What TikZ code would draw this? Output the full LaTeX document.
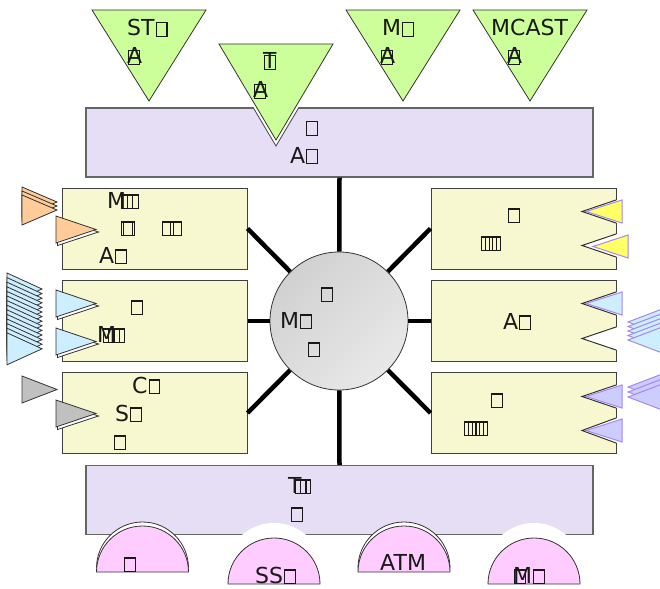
\documentclass[tikz,border=0pt]{standalone}
\usepackage{fontspec}
\setmainfont{DejaVu Sans}
\setlength\fboxsep{0pt}
\setlength\fboxrule{1.2pt}
\newcommand\nb{\kern1pt\fbox{\rule{0pt}{12.5pt}\rule{9.5pt}{0pt}}\kern1pt}
\newcommand\ovl[2]{\rlap{#1}#2}
\definecolor{barc}{HTML}{E6DEF5}
\definecolor{boxc}{HTML}{F8F8D0}
\definecolor{greent}{HTML}{CCFF99}
\definecolor{pinkd}{HTML}{FFCCFF}
\definecolor{orng}{HTML}{FFCC99}
\definecolor{lblue}{HTML}{CCEEFF}
\definecolor{grayt}{HTML}{C0C0C0}
\definecolor{yelt}{HTML}{FFFF66}
\definecolor{purt}{HTML}{CCCCFF}
\definecolor{purl}{HTML}{A488EE}
\tikzset{
  bar/.style={draw=black!60, fill=barc, line width=1.2pt, minimum width=507pt, minimum height=69pt, inner sep=0pt},
  ybox/.style={draw=black!75, fill=boxc, line width=1pt, minimum width=185pt, minimum height=81pt, inner sep=0pt},
  lbl/.style={anchor=base west, inner sep=0pt, font=\fontsize{22}{26}\selectfont, text=black!90},
  link/.style={line width=4.5pt, black},
  tri/.style={draw=black!80, line width=0.8pt, line join=miter},
  rtri/.style={draw=purl, line width=1pt, line join=miter},
  notch/.style={draw=black!80, line width=1pt}
}
\begin{document}
\begin{tikzpicture}[x=1pt,y=-1pt]
\useasboundingbox (0,0) rectangle (660,588);
\clip (0,0) rectangle (660,588);
% bars and boxes
\node[bar] (Top) at (339.5,142.5) {};
\node[bar] (Bot) at (339.5,500) {};
\node[ybox] (L1) at (154.5,228.5) {};
\node[ybox] (L2) at (154.5,321) {};
\node[ybox] (L3) at (154.5,413) {};
\node[ybox] (R1) at (523.5,228.5) {};
\node[ybox] (R2) at (523.5,321) {};
\node[ybox] (R3) at (523.5,413) {};
\node[circle, draw=black!80, line width=0.8pt, minimum size=138pt, inner sep=0pt,
      top color=black!18, bottom color=black!9, shading angle=45] (C) at (339,321) {};
% links
\draw[link] (Top.south) -- (C);
\draw[link] (Bot.north) -- (C);
\draw[link] (L1.east) -- (C);
\draw[link] (L2.east) -- (C);
\draw[link] (L3.east) -- (C);
\draw[link] (R1.west) -- (C);
\draw[link] (R2.west) -- (C);
\draw[link] (R3.west) -- (C);
% top triangles
\filldraw[tri, fill=greent] (92,10) -- (206,10) -- (149,101) -- cycle;
\begin{scope}
  \clip (86,108) rectangle (593,177);
  \draw[line width=7pt, black!70, line join=miter] (219,44) -- (333,44) -- (276,140) -- cycle;
  \draw[line width=5pt, white, line join=miter] (219,44) -- (333,44) -- (276,140) -- cycle;
\end{scope}
\filldraw[tri, fill=greent] (219,44) -- (333,44) -- (276,140) -- cycle;
\filldraw[tri, fill=greent] (346,10) -- (460,10) -- (403,101) -- cycle;
\filldraw[tri, fill=greent] (473,10) -- (587,10) -- (530,101) -- cycle;
% bottom half disks
\filldraw[tri, fill=white] (96.5,568) arc[start angle=180, end angle=0, radius=46pt] -- cycle;
\filldraw[tri, fill=pinkd] (96.5,572) arc[start angle=180, end angle=0, radius=46pt] -- cycle;
\fill[white] (225,572) arc[start angle=180, end angle=0, radius=49pt] -- cycle;
\filldraw[tri, fill=pinkd] (228,584) arc[start angle=180, end angle=0, radius=46pt] -- cycle;
\filldraw[tri, fill=white] (358,568) arc[start angle=180, end angle=0, radius=46pt] -- cycle;
\filldraw[tri, fill=pinkd] (358,572) arc[start angle=180, end angle=0, radius=46pt] -- cycle;
\fill[white] (485,572) arc[start angle=180, end angle=0, radius=49pt] -- cycle;
\filldraw[tri, fill=pinkd] (488,584) arc[start angle=180, end angle=0, radius=46pt] -- cycle;
% left stacks
\foreach \i in {0,1,2}
  \filldraw[tri, fill=orng] (22,{187+4*\i}) -- (57,{202+4*\i}) -- (22,{217+4*\i}) -- cycle;
\foreach \i in {0,...,13}
  \filldraw[tri, fill=lblue] (7,{273+4.6*\i}) -- (42,{289+4.6*\i}) -- (7,{305+4.6*\i}) -- cycle;
\filldraw[tri, fill=grayt] (22,376) -- (57,389.5) -- (22,403) -- cycle;
% left inner triangles with shadow
\foreach \c/\ya/\yb in {orng/216/243, lblue/290/317, lblue/328/355, grayt/400/427} {
  \filldraw[tri, fill=white] (57.5,{\ya+2.5}) -- (98.5,{(\ya+\yb)/2+2.5}) -- (57.5,{\yb+2.5}) -- cycle;
  \filldraw[tri, fill=\c] (56,\ya) -- (96,{(\ya+\yb)/2}) -- (56,\yb) -- cycle;
}
% right notches
\foreach \ya/\yb in {200/223, 234/257, 292/315, 327/350, 385/408, 418/443} {
  \fill[white] (617.5,\ya) -- (582,{(\ya+\yb)/2}) -- (617.5,\yb) -- cycle;
  \draw[notch] (616,\ya) -- (582,{(\ya+\yb)/2}) -- (616,\yb);
}
% right triangles
\filldraw[rtri, fill=yelt] (622,200) -- (586,211.5) -- (622,223) -- cycle;
\filldraw[rtri, fill=yelt] (628,235) -- (593,246.5) -- (628,258) -- cycle;
\filldraw[rtri, fill=lblue] (622,292) -- (586,303.5) -- (622,315) -- cycle;
\filldraw[rtri, fill=purt] (622,385) -- (586,396.5) -- (622,408) -- cycle;
\filldraw[rtri, fill=purt] (622,419) -- (586,430.5) -- (622,442) -- cycle;
\foreach \i in {0,...,4}
  \filldraw[rtri, fill=lblue] (670,{306+4.5*\i}) -- (628,{322+4.5*\i}) -- (670,{338+4.5*\i}) -- cycle;
\foreach \i in {0,1,2}
  \filldraw[rtri, fill=purt] (670,{371+5*\i}) -- (628,{387+5*\i}) -- (670,{403+5*\i}) -- cycle;
% texts
\node[lbl] (a1) at (127,36) {ST\nb};
\node[lbl] (a2) at (127,64) {\ovl{A}{\nb}};
\node[lbl] (b1) at (263,69) {\ovl{T}{\nb}};
\node[lbl] (b2) at (253,98) {\ovl{A}{\nb}};
\node[lbl] (c1) at (382,36) {M\nb};
\node[lbl] (c2) at (380,64) {\ovl{A}{\nb}};
\node[lbl] (d1) at (491,36) {MCAST};
\node[lbl] (d2) at (507,64) {\ovl{A}{\nb}};
\node[lbl] (e1) at (305,135) {\nb};
\node[lbl] (e2) at (290,163) {A\nb};
\node[lbl] (f1) at (107,208) {M\kern-6pt\nb\kern-8pt\nb};
\node[lbl] (f2) at (120,235) {\nb\kern-12pt\nb};
\node[lbl] (f3) at (161,235) {\nb\kern-6pt\nb};
\node[lbl] (f4) at (99,263) {A\nb};
\node[lbl] (g1) at (130,314) {\nb};
\node[lbl] (g2) at (97,342) {M\kern-14pt\nb\kern-9pt\nb\kern-9pt\nb};
\node[lbl] (h1) at (132,393) {C\nb};
\node[lbl] (h2) at (115,421) {S\nb};
\node[lbl] (h3) at (113,449) {\nb};
\node[lbl] (i1) at (507,222) {\nb};
\node[lbl] (i2) at (480,250) {\nb\kern-10pt\nb\kern-10pt\nb};
\node[lbl] (j1) at (503,329) {A\nb};
\node[lbl] (k1) at (490,407) {\nb};
\node[lbl] (k2) at (463,435) {\nb\kern-10pt\nb\kern-10pt\nb\kern-10pt\nb};
\node[lbl] (m1) at (320,301) {\nb};
\node[lbl] (m2) at (280,328) {M\nb};
\node[lbl] (m3) at (307,356) {\nb};
\node[lbl] (n1) at (288,493) {T\kern-8pt\nb\kern-9pt\nb};
\node[lbl] (n2) at (290,521) {\nb};
\node[lbl] (p1) at (123,571) {\nb};
\node[lbl] (p2) at (255,583) {SS\nb};
\node[lbl] (p3) at (380,570) {ATM};
\node[lbl] (p4) at (513,583) {\rlap{\nb}M\nb};
\end{tikzpicture}
\end{document}
